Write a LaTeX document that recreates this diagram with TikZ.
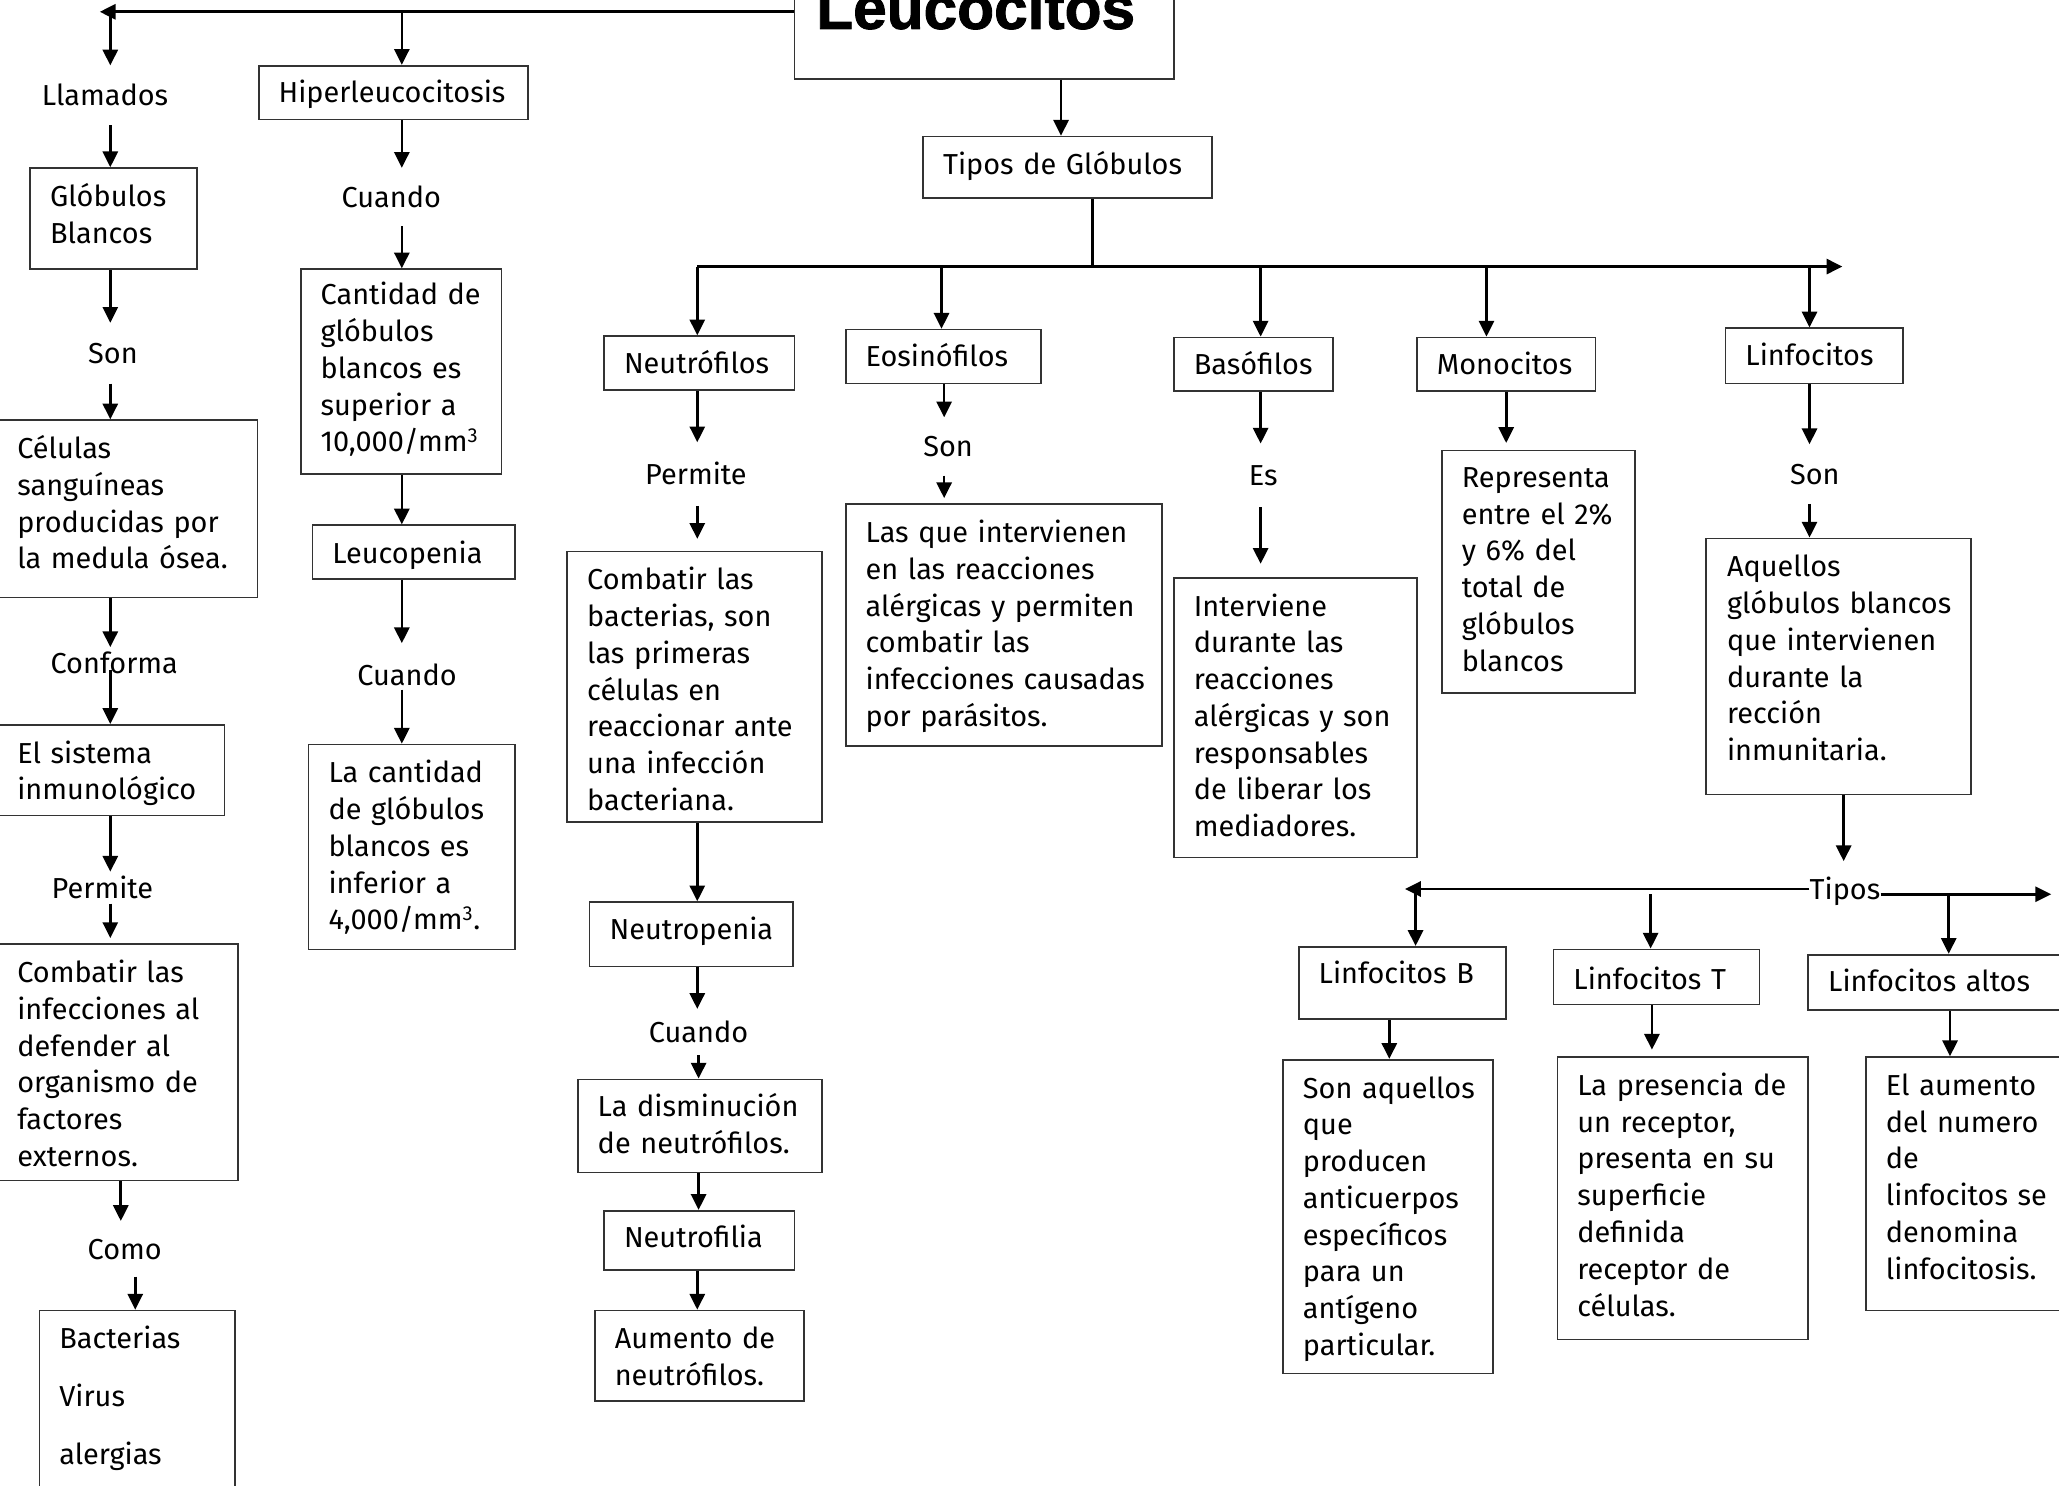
\documentclass[tikz,border=0pt]{standalone}
\usepackage{fontspec}
\setmainfont{Fira Sans}
\newfontfamily\titlefont{Liberation Sans}[BoldFeatures={FakeBold=1.5}]
\usetikzlibrary{arrows.meta}
\tikzset{
  box/.style={draw=black!80, line width=1.3pt, inner sep=0pt},
  txt/.style={inner sep=0pt, align=left, text width=300pt, font=\fontsize{22}{28}\selectfont},
  lab/.style={inner xsep=0pt, text height=16pt, text depth=0pt, font=\fontsize{22}{28}\selectfont},
  arr/.style={line width=2pt, -{Triangle[length=12pt,width=11.5pt]}},
  ln/.style={line width=2pt}
}
% name, x1, y1, x2, y2, text x, first-line centre y, text
\newcommand\mybox[8]{%
  \node[box, minimum width={(#4)-(#2)}, minimum height={(#5)-(#3)}] (#1) at ({((#2)+(#4))/2},{((#3)+(#5))/2}) {};
  \node[txt, anchor=north west] (#1-t) at (#6,{(#7)-12.6}) {\strut #8};}
\begin{document}
\begin{tikzpicture}[x=1pt,y=-1pt]
\useasboundingbox (0,0) rectangle (1568,1131);
\clip (0,0) rectangle (1568,1131);
\fill[white] (0,0) rectangle (1568,1131);

% ---------- title ----------
\node[box, minimum width=289, minimum height=75] (leuc) at (749.5,22.5) {};
\node[inner sep=0pt, anchor=base, font={\titlefont\bfseries\fontsize{46}{50}\selectfont}] (leuct) at (743,22) {Leucocitos};
\coordinate (topL) at (76,9);
\draw[arr] (leuc.west |- topL) -- (topL);

% ---------- left column ----------
\node[lab, inner ysep=14.5pt] (llam) at (80,72.5) {Llamados};
\mybox{glob}{23}{128}{150}{205}{38}{150}{Glóbulos\\Blancos}
\node[lab, inner ysep=15pt] (son1) at (86,269) {Son};
\mybox{cel}{-2}{320}{196}{455}{13}{342}{Células\\sanguíneas\\producidas por\\la medula ósea.}
\node[lab, inner ysep=4pt] (conf) at (87,505) {Conforma};
\mybox{sis}{-2}{552}{171}{621}{13}{574}{El sistema\\inmunológico}
\node[lab, inner ysep=4pt] (perm1) at (78,676) {Permite};
\mybox{comb}{-2}{719}{181}{899}{13}{741}{Combatir las\\infecciones al\\defender al\\organismo de\\factores\\externos.}
\node[lab, inner ysep=13pt] (como) at (95,951) {Como};
\mybox{bact}{30}{998}{179}{1140}{45}{1020}{Bacterias\\[16pt]Virus\\[16pt]alergias}

\draw[arr] (84,0 |- topL) -- (84,0 |- llam.north);
\draw[arr] (84,0 |- llam.south) -- (84,0 |- glob.north);
\draw[arr] (84,0 |- glob.south) -- (84,0 |- son1.north);
\draw[arr] (84,0 |- son1.south) -- (84,0 |- cel.north);
\draw[arr] (84,0 |- cel.south) -- (84,0 |- conf.north);
\draw[arr, shorten <=-7pt] (84,0 |- conf.south) -- (84,0 |- sis.north);
\draw[arr] (84,0 |- sis.south) -- (84,0 |- perm1.north);
\draw[arr, shorten >=4pt] (84,0 |- perm1.south) -- (84,0 |- comb.north);
\draw[arr] (92,0 |- comb.south) -- (92,0 |- como.north);
\draw[arr] (103,0 |- como.south) -- (103,0 |- bact.north);

% ---------- second column ----------
\mybox{hiper}{197}{50}{402}{91}{212}{71}{Hiperleucocitosis}
\node[lab, inner ysep=14pt] (cuan1) at (298,150) {Cuando};
\mybox{cant}{229}{205}{382}{361}{244}{225}{Cantidad de\\glóbulos\\blancos es\\superior a\\10,000/mm\textsuperscript{3}}
\mybox{leucop}{238}{400}{392}{441}{253}{422}{Leucopenia}
\node[lab, inner ysep=16pt] (cuan2) at (310,514) {Cuando};
\mybox{lacant}{235}{567}{392}{723}{250}{589}{La cantidad\\de glóbulos\\blancos es\\inferior a\\4,000/mm\textsuperscript{3}.}

\draw[arr] (306,0 |- topL) -- (306,0 |- hiper.north);
\draw[arr] (306,0 |- hiper.south) -- (306,0 |- cuan1.north);
\draw[arr] (306,0 |- cuan1.south) -- (306,0 |- cant.north);
\draw[arr] (306,0 |- cant.south) -- (306,0 |- leucop.north);
\draw[arr] (306,0 |- leucop.south) -- (306,0 |- cuan2.north);
\draw[arr, shorten <=-13pt] (306,0 |- cuan2.south) -- (306,0 |- lacant.north);

% ---------- types ----------
\mybox{tipos}{703}{104}{923}{151}{718}{126}{Tipos de Glóbulos}
\draw[arr] (808,0 |- leuc.south) -- (808,0 |- tipos.north);
\coordinate (hub) at (832,203);
\coordinate (hubL) at (531,203);
\coordinate (hubR) at (1403,203);
\draw[ln, line width=2.6pt] (hub |- tipos.south) -- (hub);
\draw[arr] (hubL) -- (hubR);

\mybox{neut}{460}{256}{605}{297}{475}{277}{Neutrófilos}
\mybox{eos}{644}{251}{793}{292}{659}{272}{Eosinófilos}
\mybox{baso}{894}{257}{1015}{298}{909}{278}{Basófilos}
\mybox{mono}{1079}{257}{1215}{298}{1094}{278}{Monocitos}
\mybox{linf}{1314}{250}{1449}{292}{1329}{271}{Linfocitos}

\draw[arr] (hubL) -- (hubL |- neut.north);
\draw[arr] (717,0 |- hubL) -- (717,0 |- eos.north);
\draw[arr] (960,0 |- hubL) -- (960,0 |- baso.north);
\draw[arr] (1132,0 |- hubL) -- (1132,0 |- mono.north);
\draw[arr] (1378,0 |- hubL) -- (1378,0 |- linf.north);

% Neutrofilos column
\node[lab, inner ysep=16pt] (perm2) at (530,361) {Permite};
\mybox{combb}{432}{420}{626}{626}{447}{442}{Combatir las\\bacterias, son\\las primeras\\células en\\reaccionar ante\\una infección\\bacteriana.}
\mybox{neutp}{449}{687}{604}{736}{464}{708}{Neutropenia}
\node[lab, inner ysep=9.5pt] (cuan3) at (532,786) {Cuando};
\mybox{dism}{440}{822}{626}{893}{455}{843}{La disminución\\de neutrófilos.}
\mybox{neutf}{460}{922}{605}{967}{475}{943}{Neutrofilia}
\mybox{aum}{453}{998}{612}{1067}{468}{1020}{Aumento de\\neutrófilos.}

\draw[arr] (531,0 |- neut.south) -- (531,0 |- perm2.north);
\draw[arr, shorten >=9pt] (531,0 |- perm2.south) -- (531,0 |- combb.north);
\draw[arr] (531,0 |- combb.south) -- (531,0 |- neutp.north);
\draw[arr] (531,0 |- neutp.south) -- (531,0 |- cuan3.north);
\draw[arr] (532,0 |- cuan3.south) -- (532,0 |- dism.north);
\draw[arr] (532,0 |- dism.south) -- (532,0 |- neutf.north);
\draw[arr] (531,0 |- neutf.south) -- (531,0 |- aum.north);

% Eosinofilos column
\node[lab, inner ysep=14pt] (son2) at (722,340) {Son};
\mybox{lasq}{644}{384}{885}{568}{659}{406}{Las que intervienen\\en las reacciones\\alérgicas y permiten\\combatir las\\infecciones causadas\\por parásitos.}
\draw[arr] (719,0 |- eos.south) -- (719,0 |- son2.north);
\draw[arr, shorten >=4pt] (719,0 |- son2.south) -- (719,0 |- lasq.north);

% Basofilos column
\node[lab, inner ysep=16pt] (es) at (962,362) {Es};
\mybox{inter}{894}{440}{1079}{653}{909}{462}{Interviene\\durante las\\reacciones\\alérgicas y son\\responsables\\de liberar los\\mediadores.}
\draw[arr] (960,0 |- baso.south) -- (960,0 |- es.north);
\draw[arr, shorten >=10pt] (960,0 |- es.south) -- (960,0 |- inter.north);

% Monocitos column
\mybox{repr}{1098}{343}{1245}{528}{1113}{364}{Representa\\entre el 2\%\\y 6\% del\\total de\\glóbulos\\blancos}
\draw[arr, shorten >=5pt] (1147,0 |- mono.south) -- (1147,0 |- repr.north);

% Linfocitos column
\node[lab, inner ysep=14.5pt] (son3) at (1382,361) {Son};
\mybox{aque}{1299}{410}{1501}{605}{1315}{432}{Aquellos\\glóbulos blancos\\que intervienen\\durante la\\rección\\inmunitaria.}
\draw[arr] (1378,0 |- linf.south) -- (1378,0 |- son3.north);
\draw[arr] (1378,0 |- son3.south) -- (1378,0 |- aque.north);

\node[lab, inner ysep=13pt] (tiposl) at (1405,677) {Tipos};
\draw[arr] (1404,0 |- aque.south) -- (1404,0 |- tiposl.north);
\coordinate (tL) at (1070,677);
\coordinate (tR) at (1562,681);
\draw[arr] (tiposl.west) -- (tL);
\draw[arr] (tiposl.east |- tR) -- (tR);

\mybox{lb}{989}{721}{1147}{776}{1004}{742}{Linfocitos B}
\mybox{lt}{1183}{723}{1340}{765}{1198}{746}{Linfocitos T}
\mybox{la}{1377}{727}{1580}{769}{1392}{748}{Linfocitos altos}
\draw[arr] (1078,0 |- tL) -- (1078,0 |- lb.north);
\draw[arr] (1257,0 |- tR) -- (1257,0 |- lt.north);
\draw[arr] (1484,0 |- tR) -- (1484,0 |- la.north);

\mybox{sonaq}{977}{807}{1137}{1046}{992}{829}{Son aquellos\\que\\producen\\anticuerpos\\específicos\\para un\\antígeno\\particular.}
\mybox{lapres}{1186}{805}{1377}{1020}{1201}{827}{La presencia de\\un receptor,\\presenta en su\\superficie\\definida\\receptor de\\células.}
\mybox{elaum}{1421}{805}{1580}{998}{1436}{827}{El aumento\\del numero\\de\\linfocitos se\\denomina\\linfocitosis.}
\draw[arr] (1058,0 |- lb.south) -- (1058,0 |- sonaq.north);
\draw[arr, shorten >=5pt] (1258,0 |- lt.south) -- (1258,0 |- lapres.north);
\draw[arr] (1485,0 |- la.south) -- (1485,0 |- elaum.north);
\end{tikzpicture}
\end{document}
